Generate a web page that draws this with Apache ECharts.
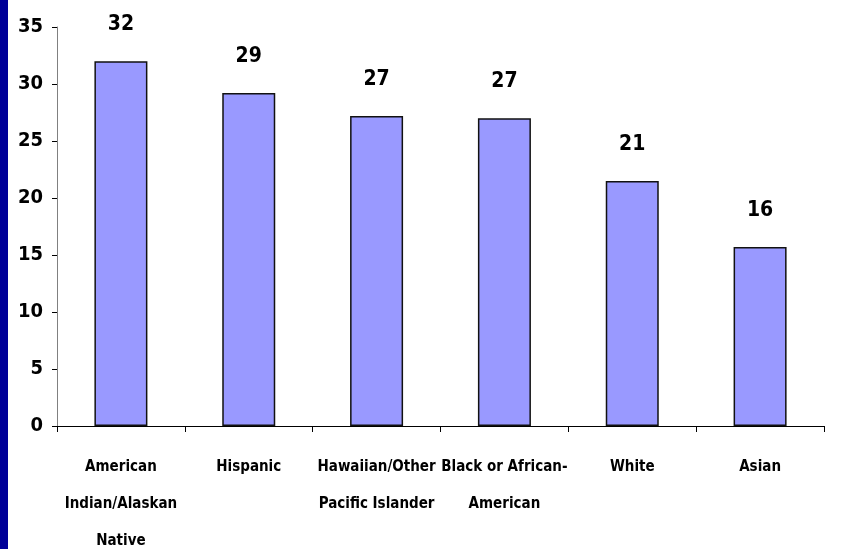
<!DOCTYPE html>
<html>
<head>
<meta charset="utf-8">
<script src="https://cdn.jsdelivr.net/npm/echarts@6/dist/echarts.min.js"></script>
<style>
  html, body { margin: 0; padding: 0; background: #fff; }
  #chart { width: 860px; height: 549px; }
</style>
</head>
<body>
<div id="chart"></div>
<script>
var categories = ['American\nIndian/Alaskan\nNative', 'Hispanic', 'Hawaiian/Other\nPacific Islander',
  'Black or African-\nAmerican', 'White', 'Asian'];
var values = [32, 29.2, 27.2, 27, 21.5, 15.7];
var valueLabels = ['32', '29', '27', '27', '21', '16'];
var yTicks = [0, 5, 10, 15, 20, 25, 30, 35];

var font = '"Liberation Sans Narrow", "DejaVu Sans Condensed", Arial, sans-serif';

var myChart = echarts.init(document.getElementById('chart'));
myChart.setOption({
  backgroundColor: '#fff',
  animation: false,
  graphic: [{
    type: 'rect',
    left: 0, top: 0,
    shape: { width: 8, height: 549 },
    style: { fill: '#000099' }
  }],
  grid: { left: 57, right: 36, top: 27, bottom: 123, outerBoundsMode: 'none' },
  xAxis: {
    type: 'category',
    data: categories,
    axisLine: { lineStyle: { color: '#000', width: 1 } },
    axisTick: { show: true, length: 6, lineStyle: { color: '#000' } },
    axisLabel: {
      interval: 0,
      margin: 23,
      fontFamily: font,
      fontWeight: 'bold',
      fontSize: 15,
      lineHeight: 37,
      color: '#000'
    }
  },
  yAxis: {
    type: 'value',
    min: yTicks[0],
    max: yTicks[yTicks.length - 1],
    interval: 5,
    splitLine: { show: false },
    axisLine: { show: true, lineStyle: { color: '#808080', width: 1 } },
    axisTick: { show: true, length: 5, lineStyle: { color: '#000' } },
    axisLabel: {
      margin: 14,
      fontFamily: font,
      fontWeight: 'bold',
      fontSize: 20,
      color: '#000'
    }
  },
  series: [{
    type: 'bar',
    data: values,
    barWidth: 53,
    itemStyle: { color: '#9999FF', borderColor: '#111', borderWidth: 1.5 },
    label: {
      show: true,
      position: 'top',
      distance: 26,
      fontFamily: font,
      fontWeight: 'bold',
      fontSize: 21,
      color: '#000',
      formatter: function (p) { return valueLabels[p.dataIndex]; }
    }
  }]
});
</script>
</body>
</html>
